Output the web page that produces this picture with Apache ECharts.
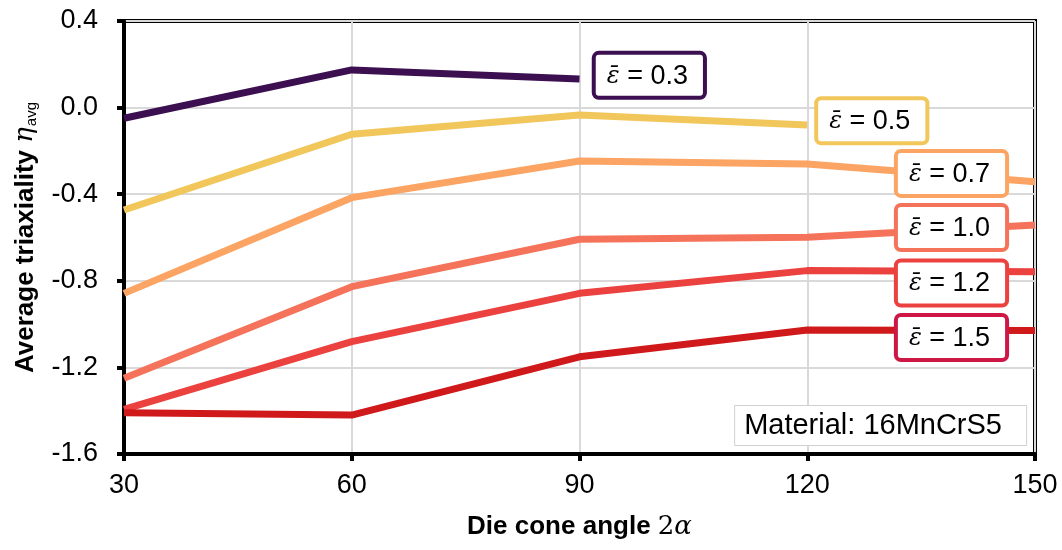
<!DOCTYPE html>
<html>
<head>
<meta charset="utf-8">
<script src="https://cdn.jsdelivr.net/npm/echarts@6/dist/echarts.min.js"></script>
<style>
  html, body { margin: 0; padding: 0; background: #fff; }
  #chart { width: 1062px; height: 550px; }
</style>
</head>
<body>
<div id="chart"></div>
<script>
// die cone angle 2alpha
const angles = [30, 60, 90, 120, 150]

// average triaxiality per strain level
const strainNames = ['0.3', '0.5', '0.7', '1.0', '1.2', '1.5']
const eta03 = [-0.049, 0.174, 0.132, null, null]
const eta05 = [-0.473, -0.123, -0.034, -0.080, null]
const eta07 = [-0.858, -0.416, -0.247, -0.260, -0.342]
const eta10 = [-1.250, -0.827, -0.608, -0.599, -0.542]
const eta12 = [-1.394, -1.081, -0.858, -0.753, -0.758]
const eta15 = [-1.409, -1.420, -1.151, -1.027, -1.030]

const yTicks = [-1.6, -1.2, -0.8, -0.4, 0.0, 0.4]

// where the strain labels sit (data units)
const labelX = [99.2, 128.5, 139.0, 139.0, 139.0, 139.0]
const labelY = [0.149, -0.061, -0.304, -0.554, -0.810, -1.062]

const lineColors = ['#3b0f50', '#f1c75b', '#fba463', '#f5735a', '#eb413f', '#d0191b']
const boxColors = ['#3b0f50', '#f1c75b', '#fba463', '#f5735a', '#eb413f', '#cf1746']

const allEta = [eta03, eta05, eta07, eta10, eta12, eta15]

const font = '"Liberation Sans", Arial, sans-serif'
const serif = '"DejaVu Serif", serif'

const series = allEta.map((vals, i) => ({
    type: 'line',
    name: strainNames[i],
    data: angles.map((a, k) => [a, vals[k]]).filter(p => p[1] !== null),
    showSymbol: false,
    symbol: 'none',
    z: 3 + i,
    lineStyle: { color: lineColors[i], width: 7, join: 'round' },
    markPoint: {
        symbol: 'rect',
        symbolSize: 1,
        itemStyle: { color: 'rgba(0,0,0,0)' },
        z: 20,
        data: [{ coord: [labelX[i], labelY[i]] }],
        label: {
            show: true,
            position: 'inside',
            formatter: '{e|ε̄}{t| = ' + strainNames[i] + '}',
            backgroundColor: '#fff',
            borderColor: boxColors[i],
            borderWidth: 4,
            borderRadius: 3,
            padding: [8, 15, 6, 11],
            rich: {
                e: { fontFamily: serif, fontStyle: 'italic', fontSize: 24, color: '#000' },
                t: { fontFamily: font, fontSize: 27, color: '#000' }
            }
        }
    }
}))

const chart = echarts.init(document.getElementById('chart'))
chart.setOption({
    animation: false,
    backgroundColor: '#fff',
    title: {
        text: 'Material: 16MnCrS5',
        right: 35,
        top: 405,
        backgroundColor: '#fff',
        borderColor: '#d0d0d0',
        borderWidth: 1,
        padding: [6, 25, 6, 10],
        textStyle: { fontFamily: font, fontSize: 29, fontWeight: 'normal', color: '#000' }
    },
    grid: {
        left: 124, right: 27, top: 21, bottom: 96,
        show: true, borderColor: '#000', borderWidth: 4
    },
    xAxis: {
        type: 'value',
        min: 30, max: 150, interval: 30,
        name: '{b|Die cone angle }{n|2}{a|α}',
        nameLocation: 'middle',
        nameGap: 60,
        nameTextStyle: {
            rich: {
                b: { fontFamily: font, fontSize: 26, fontWeight: 'bold', color: '#000' },
                n: { fontFamily: serif, fontSize: 26, color: '#000' },
                a: { fontFamily: serif, fontStyle: 'italic', fontSize: 26, color: '#000' }
            }
        },
        axisLine: { show: true, onZero: false, lineStyle: { color: '#000', width: 4 } },
        axisTick: { show: true, inside: false, length: 7, lineStyle: { color: '#000', width: 4 } },
        axisLabel: { margin: 18, fontFamily: font, fontSize: 27, color: '#000' },
        splitLine: { show: true, lineStyle: { color: '#d9d9d9', width: 2 } }
    },
    yAxis: {
        type: 'value',
        min: yTicks[0], max: yTicks[yTicks.length - 1], interval: 0.4,
        name: '{b|Average triaxiality }{h|η}{s|avg}',
        nameLocation: 'middle',
        nameGap: 85,
        nameRotate: 90,
        nameTextStyle: {
            rich: {
                b: { fontFamily: font, fontSize: 26, fontWeight: 'bold', color: '#000' },
                h: { fontFamily: serif, fontStyle: 'italic', fontSize: 26, color: '#000' },
                s: { fontFamily: font, fontSize: 15, color: '#000', verticalAlign: 'bottom', padding: [12, 0, 0, 1] }
            }
        },
        axisLine: { show: true, onZero: false, lineStyle: { color: '#000', width: 4 } },
        axisTick: { show: true, inside: false, length: 7, lineStyle: { color: '#000', width: 4 } },
        axisLabel: {
            margin: 26, fontFamily: font, fontSize: 27, color: '#000',
            formatter: v => v.toFixed(1)
        },
        splitLine: { show: true, lineStyle: { color: '#d9d9d9', width: 2 } }
    },
    series: series
})
</script>
</body>
</html>
